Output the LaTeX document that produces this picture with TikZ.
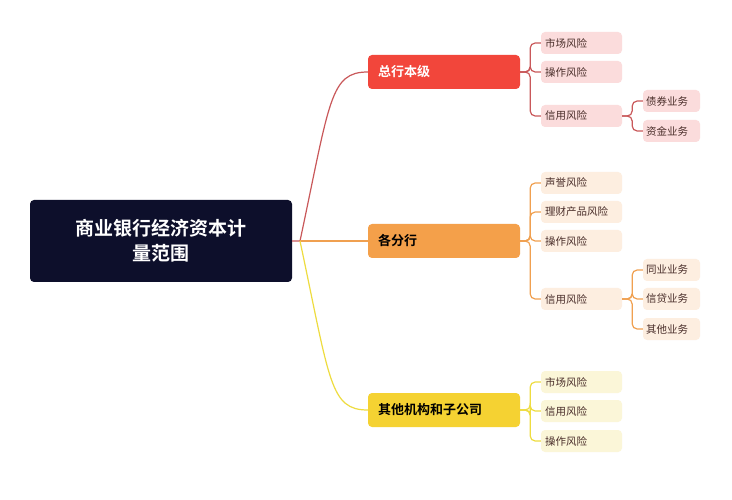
\documentclass[tikz,border=0pt]{standalone}
\usepackage{fontspec}
\setmainfont{Noto Sans CJK SC}
\newfontfamily\cjkb{Noto Sans CJK SC Bold}
\begin{document}
\begin{tikzpicture}[x=1pt,y=-1pt,
  rootbox/.style={fill=rootc,rounded corners=4pt,text=white,minimum width=262pt,minimum height=82pt,align=center,font=\cjkb\fontsize{19}{25}\selectfont},
  mainbox/.style={rounded corners=4pt,minimum width=152pt,minimum height=34pt,text width=132pt,align=left,font=\cjkb\fontsize{13}{15}\selectfont},
  leaf/.style={rounded corners=4pt,minimum height=22pt,minimum width=81pt,text width=73pt,align=left,inner sep=3pt,font=\fontsize{10.5}{12}\selectfont},
  sub/.style={leaf,minimum width=57pt,text width=51pt},
  lr/.style={leaf,fill=leafr,text=leaft}, sr/.style={sub,fill=leafr,text=leaft},
  lo/.style={leaf,fill=leafo,text=leaft}, so/.style={sub,fill=leafo,text=leaft},
  ly/.style={leaf,fill=leafy,text=leaft},
  conn/.style={line width=1.2pt,rounded corners=5pt}]
\definecolor{rootc}{HTML}{0D0F2B}
\definecolor{redc}{HTML}{F2463B}
\definecolor{orc}{HTML}{F4A04A}
\definecolor{yec}{HTML}{F5D232}
\definecolor{leafr}{HTML}{FBDCDC}
\definecolor{leafo}{HTML}{FDEEE0}
\definecolor{leafy}{HTML}{FBF6D8}
\definecolor{leaft}{HTML}{4A2E2A}
\definecolor{lred}{HTML}{C9585A}
\definecolor{lor}{HTML}{F0A050}
\definecolor{lye}{HTML}{EEDC40}
\useasboundingbox[fill=white] (0,0) rectangle (732,500);
\node[rootbox] (root) at (161,241) {商业银行经济资本计\\量范围};
\coordinate (fork) at (300,241);
\node[mainbox,fill=redc,text=white] (m1) at (444,72) {总行本级};
\node[mainbox,fill=orc,text=black] (m2) at (444,241) {各分行};
\node[mainbox,fill=yec,text=black] (m3) at (444,410) {其他机构和子公司};
\draw[lred,line width=1.2pt] (root.east|-fork) -- (fork) .. controls (330,100) and (330,72) .. (m1.west);
\draw[lor,line width=1.2pt] (fork) -- (m2.west);
\draw[lye,line width=1.2pt] (fork) .. controls (330,382) and (330,410) .. (m3.west);
% branch 1
\node[lr] (a1) at (581.5,43) {市场风险};
\node[lr] (a2) at (581.5,72) {操作风险};
\node[lr] (a3) at (581.5,116) {信用风险};
\node[sr] (a4) at (671.5,101) {债券业务};
\node[sr] (a5) at (671.5,131) {资金业务};
\foreach \t in {a1,a2,a3} \draw[conn,lred] (m1.east) -- ++(10,0) |- (\t.west);
\foreach \t in {a4,a5} \draw[conn,lred] (a3.east) -- ++(10,0) |- (\t.west);
% branch 2
\node[lo] (b1) at (581.5,183) {声誉风险};
\node[lo] (b2) at (581.5,212) {理财产品风险};
\node[lo] (b3) at (581.5,241) {操作风险};
\node[lo] (b4) at (581.5,299) {信用风险};
\node[so] (b5) at (671.5,270) {同业业务};
\node[so] (b6) at (671.5,299) {信贷业务};
\node[so] (b7) at (671.5,329) {其他业务};
\foreach \t in {b1,b2,b3,b4} \draw[conn,lor] (m2.east) -- ++(10,0) |- (\t.west);
\foreach \t in {b5,b6,b7} \draw[conn,lor] (b4.east) -- ++(10,0) |- (\t.west);
% branch 3
\node[ly] (c1) at (581.5,382) {市场风险};
\node[ly] (c2) at (581.5,411) {信用风险};
\node[ly] (c3) at (581.5,441) {操作风险};
\foreach \t in {c1,c2,c3} \draw[conn,lye] (m3.east) -- ++(10,0) |- (\t.west);
\end{tikzpicture}
\end{document}
